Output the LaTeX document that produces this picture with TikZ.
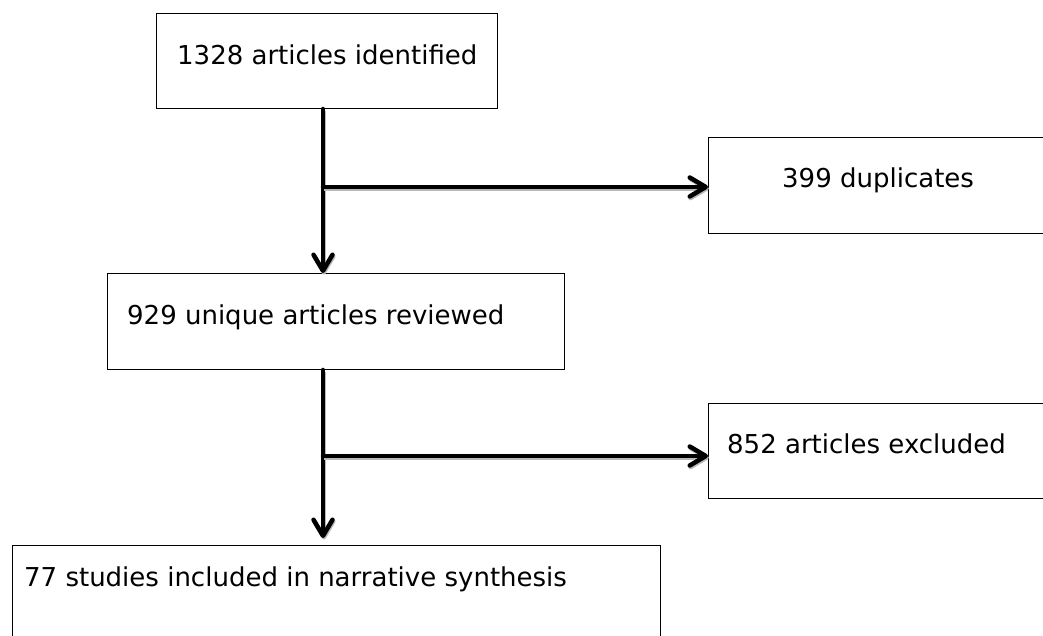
\documentclass[tikz,border=0pt]{standalone}
\usepackage{fontspec}
\setmainfont{DejaVu Sans}
\usetikzlibrary{arrows.meta,calc}

\tikzset{
  box/.style={draw=black, line width=1pt, fill=white, inner sep=0pt, anchor=north west},
  txt/.style={anchor=base west, inner sep=0pt, font=\fontsize{26}{30}\selectfont},
  conn/.style={line width=4.5pt, line cap=round,
    -{Straight Barb[length=16pt,width=19pt,round]},
    preaction={draw=black!28, line width=4.5pt, transform canvas={shift={(0.8pt,-1.6pt)}}}},
  plain/.style={line width=4.5pt},
}

\begin{document}
\begin{tikzpicture}[x=1pt,y=1pt]
  \useasboundingbox (0,0) rectangle (1043,636);

  % boxes
  \node[box, minimum width=341pt, minimum height=95pt] (b1) at (156,623) {};
  \node[box, minimum width=340pt, minimum height=96pt] (b2) at (708,499) {};
  \node[box, minimum width=457pt, minimum height=96pt] (b3) at (107,363) {};
  \node[box, minimum width=340pt, minimum height=95pt] (b4) at (708,233) {};
  \node[box, minimum width=648pt, minimum height=100pt] (b5) at (12,91) {};

  % box texts
  \node[txt] (t1) at (177,571) {1328 articles identified};
  \node[txt] (t2) at (782,448) {399 duplicates};
  \node[txt] (t3) at (127,311) {929 unique articles reviewed};
  \node[txt] (t4) at (727,182) {852 articles excluded};
  \node[txt] (t5) at (24,49) {77 studies included in narrative synthesis};

  % spine positions and branch points
  \coordinate (spine) at (323,0);
  \coordinate (j1) at (323,449);
  \coordinate (j2) at (323,180);

  % connectors
  \draw[conn] (b1.south -| spine) -- (b3.north -| spine);
  \draw[conn] (j1) -- (b2.west |- j1);
  \draw[conn, shorten >=7pt] (b3.south -| spine) -- (b5.north -| spine);
  \draw[conn] (j2) -- (b4.west |- j2);
\end{tikzpicture}
\end{document}
